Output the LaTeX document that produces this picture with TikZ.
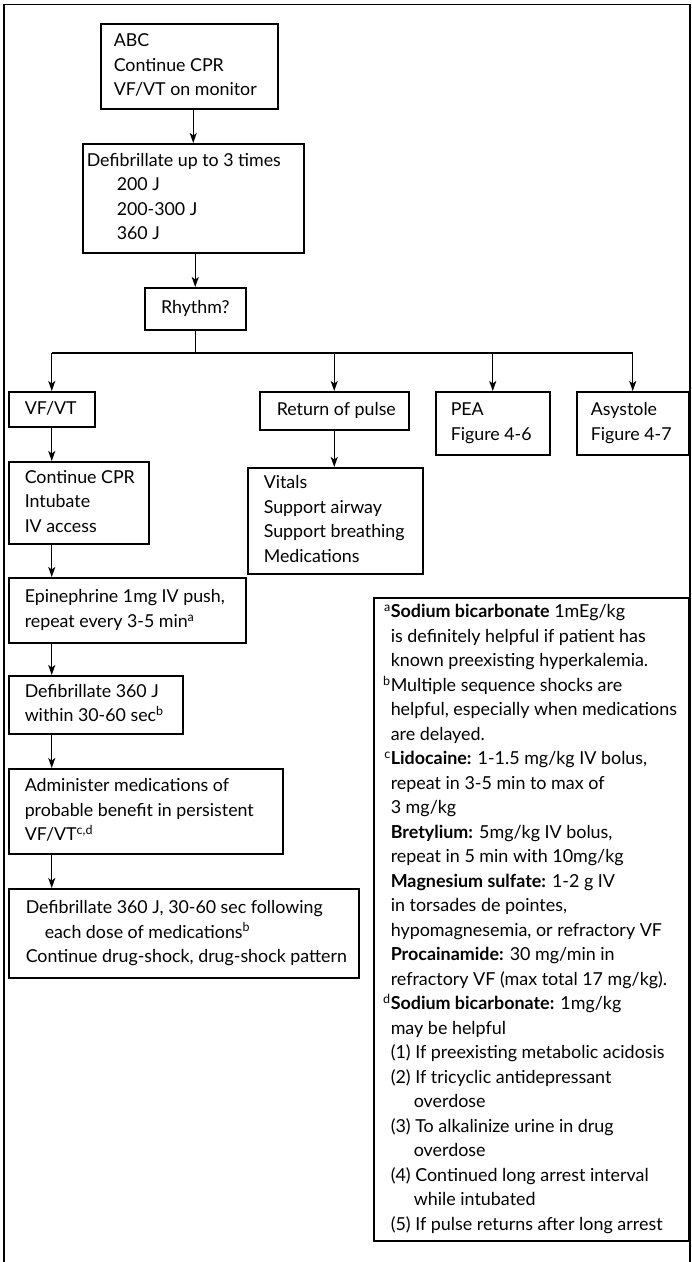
\documentclass[tikz,border=0pt]{standalone}
\usepackage{fontspec}
\setmainfont{Lato}
\usetikzlibrary{arrows.meta}
% left-aligned block of lines in a fixed-width slot
\newcommand\boxlines[2]{\makebox[#1][l]{\begin{tabular}{@{}l@{}}#2\end{tabular}}}
\begin{document}
\begin{tikzpicture}[x=1pt,y=-1pt,
  box/.style={draw, line width=1.5pt, anchor=north west, inner ysep=0pt,
    font=\fontsize{17.8}{24.5}\selectfont},
  notefont/.style={font=\fontsize{17.9}{24.5}\selectfont},
  arr/.style={line width=1.3pt, -{Stealth[length=10pt,width=7pt,inset=2.5pt]}},
  wire/.style={line width=1.3pt}]
\useasboundingbox (0,0) rectangle (692,1262);
% open frame around the chart
\draw[line width=1.5pt] (4,1262) -- (4,4.5) -- (690,4.5) -- (690,1262);

% main sequence
\node[box, minimum width=177pt, minimum height=85pt, inner xsep=13pt] (abc) at (100,23)
  {\boxlines{151pt}{ABC\\Continue CPR\\VF/VT on monitor}};
\node[box, minimum width=221pt, minimum height=109pt, inner xsep=4pt] (defib) at (82,143)
  {\boxlines{213pt}{Defibrillate up to 3 times\\\hspace*{30pt}200 J\\\hspace*{30pt}200-300 J\\\hspace*{30pt}360 J}};
\node[box, minimum width=101pt, minimum height=42pt] (rhythm) at (144,287) {Rhythm?};

% branches
\node[box, minimum width=86pt, minimum height=35pt, inner xsep=16pt] (vfvt) at (8,391)
  {\boxlines{54pt}{VF/VT}};
\node[box, minimum width=149pt, minimum height=38pt, inner xsep=17pt] (ret) at (259,391)
  {\boxlines{115pt}{Return of pulse}};
\node[box, minimum width=114pt, minimum height=63pt, inner xsep=15pt] (pea) at (435,391)
  {\boxlines{84pt}{PEA\\Figure 4-6}};
\node[box, minimum width=112pt, minimum height=63pt, inner xsep=14pt] (asys) at (576,391)
  {\boxlines{84pt}{Asystole\\Figure 4-7}};

% VF/VT column and return of pulse
\node[box, minimum width=140pt, minimum height=82pt, inner xsep=16pt] (cpr) at (8,461)
  {\boxlines{108pt}{Continue CPR\\Intubate\\IV access}};
\node[box, minimum width=175pt, minimum height=106pt, inner xsep=16pt] (vitals) at (247,467)
  {\boxlines{143pt}{Vitals\\Support airway\\Support breathing\\Medications}};
\node[box, minimum width=237pt, minimum height=65pt, inner xsep=16pt] (epi) at (8,577)
  {\boxlines{205pt}{Epinephrine 1mg IV push,\\repeat every 3-5 min\textsuperscript{a}}};
\node[box, minimum width=174pt, minimum height=58pt, inner xsep=16pt] (def360) at (8,675)
  {\boxlines{142pt}{Defibrillate 360 J\\within 30-60 sec\textsuperscript{b}}};
\node[box, minimum width=274pt, minimum height=85pt, inner xsep=16pt] (admin) at (8,768)
  {\boxlines{242pt}{Administer medications of\\probable benefit in persistent\\VF/VT\textsuperscript{c,d}}};
\node[box, minimum width=350pt, minimum height=89pt, inner xsep=17pt] (final) at (8,888)
  {\boxlines{316pt}{Defibrillate 360 J, 30-60 sec following\\\hspace*{19pt}each dose of medications\textsuperscript{b}\\Continue drug-shock, drug-shock pattern}};

% footnotes
\node[box, notefont, minimum width=315pt, minimum height=643pt, inner xsep=17pt] (notes) at (373,597)
  {\boxlines{281pt}{%
  \llap{\textsuperscript{a}}\textbf{Sodium bicarbonate} 1mEg/kg\\
  is definitely helpful if patient has\\
  known preexisting hyperkalemia.\\
  \llap{\textsuperscript{b}}Multiple sequence shocks are\\
  helpful, especially when medications\\
  are delayed.\\
  \llap{\textsuperscript{c}}\textbf{Lidocaine:} 1-1.5 mg/kg IV bolus,\\
  repeat in 3-5 min to max of\\
  3 mg/kg\\
  \textbf{Bretylium:} 5mg/kg IV bolus,\\
  repeat in 5 min with 10mg/kg\\
  \textbf{Magnesium sulfate:} 1-2 g IV\\
  in torsades de pointes,\\
  hypomagnesemia, or refractory VF\\
  \textbf{Procainamide:} 30 mg/min in\\
  refractory VF (max total 17 mg/kg).\\
  \llap{\textsuperscript{d}}\textbf{Sodium bicarbonate:} 1mg/kg\\
  may be helpful\\
  (1) If preexisting metabolic acidosis\\
  (2) If tricyclic antidepressant\\
  \hspace*{23pt}overdose\\
  (3) To alkalinize urine in drug\\
  \hspace*{23pt}overdose\\
  (4) Continued long arrest interval\\
  \hspace*{23pt}while intubated\\
  (5) If pulse returns after long arrest}};

% connectors
\coordinate (bus) at (0,353);
\draw[arr] (defib.north |- abc.south) -- (defib.north);
\draw[arr] (defib.south -| rhythm.north) -- (rhythm.north);
\draw[wire] (rhythm.south) -- (rhythm.south |- bus);
\draw[wire] (vfvt.north |- bus) -- (asys.north |- bus);
\draw[arr] (vfvt.north |- bus) -- (vfvt.north);
\draw[arr] (ret.north |- bus) -- (ret.north);
\draw[arr] (pea.north |- bus) -- (pea.north);
\draw[arr] (asys.north |- bus) -- (asys.north);
\draw[arr] (ret.south) -- (ret.south |- vitals.north);
\draw[arr] (vfvt.south) -- (vfvt.south |- cpr.north);
\draw[arr] (vfvt.south |- cpr.south) -- (vfvt.south |- epi.north);
\draw[arr] (vfvt.south |- epi.south) -- (vfvt.south |- def360.north);
\draw[arr] (vfvt.south |- def360.south) -- (vfvt.south |- admin.north);
\draw[arr] (vfvt.south |- admin.south) -- (vfvt.south |- final.north);
\end{tikzpicture}
\end{document}
